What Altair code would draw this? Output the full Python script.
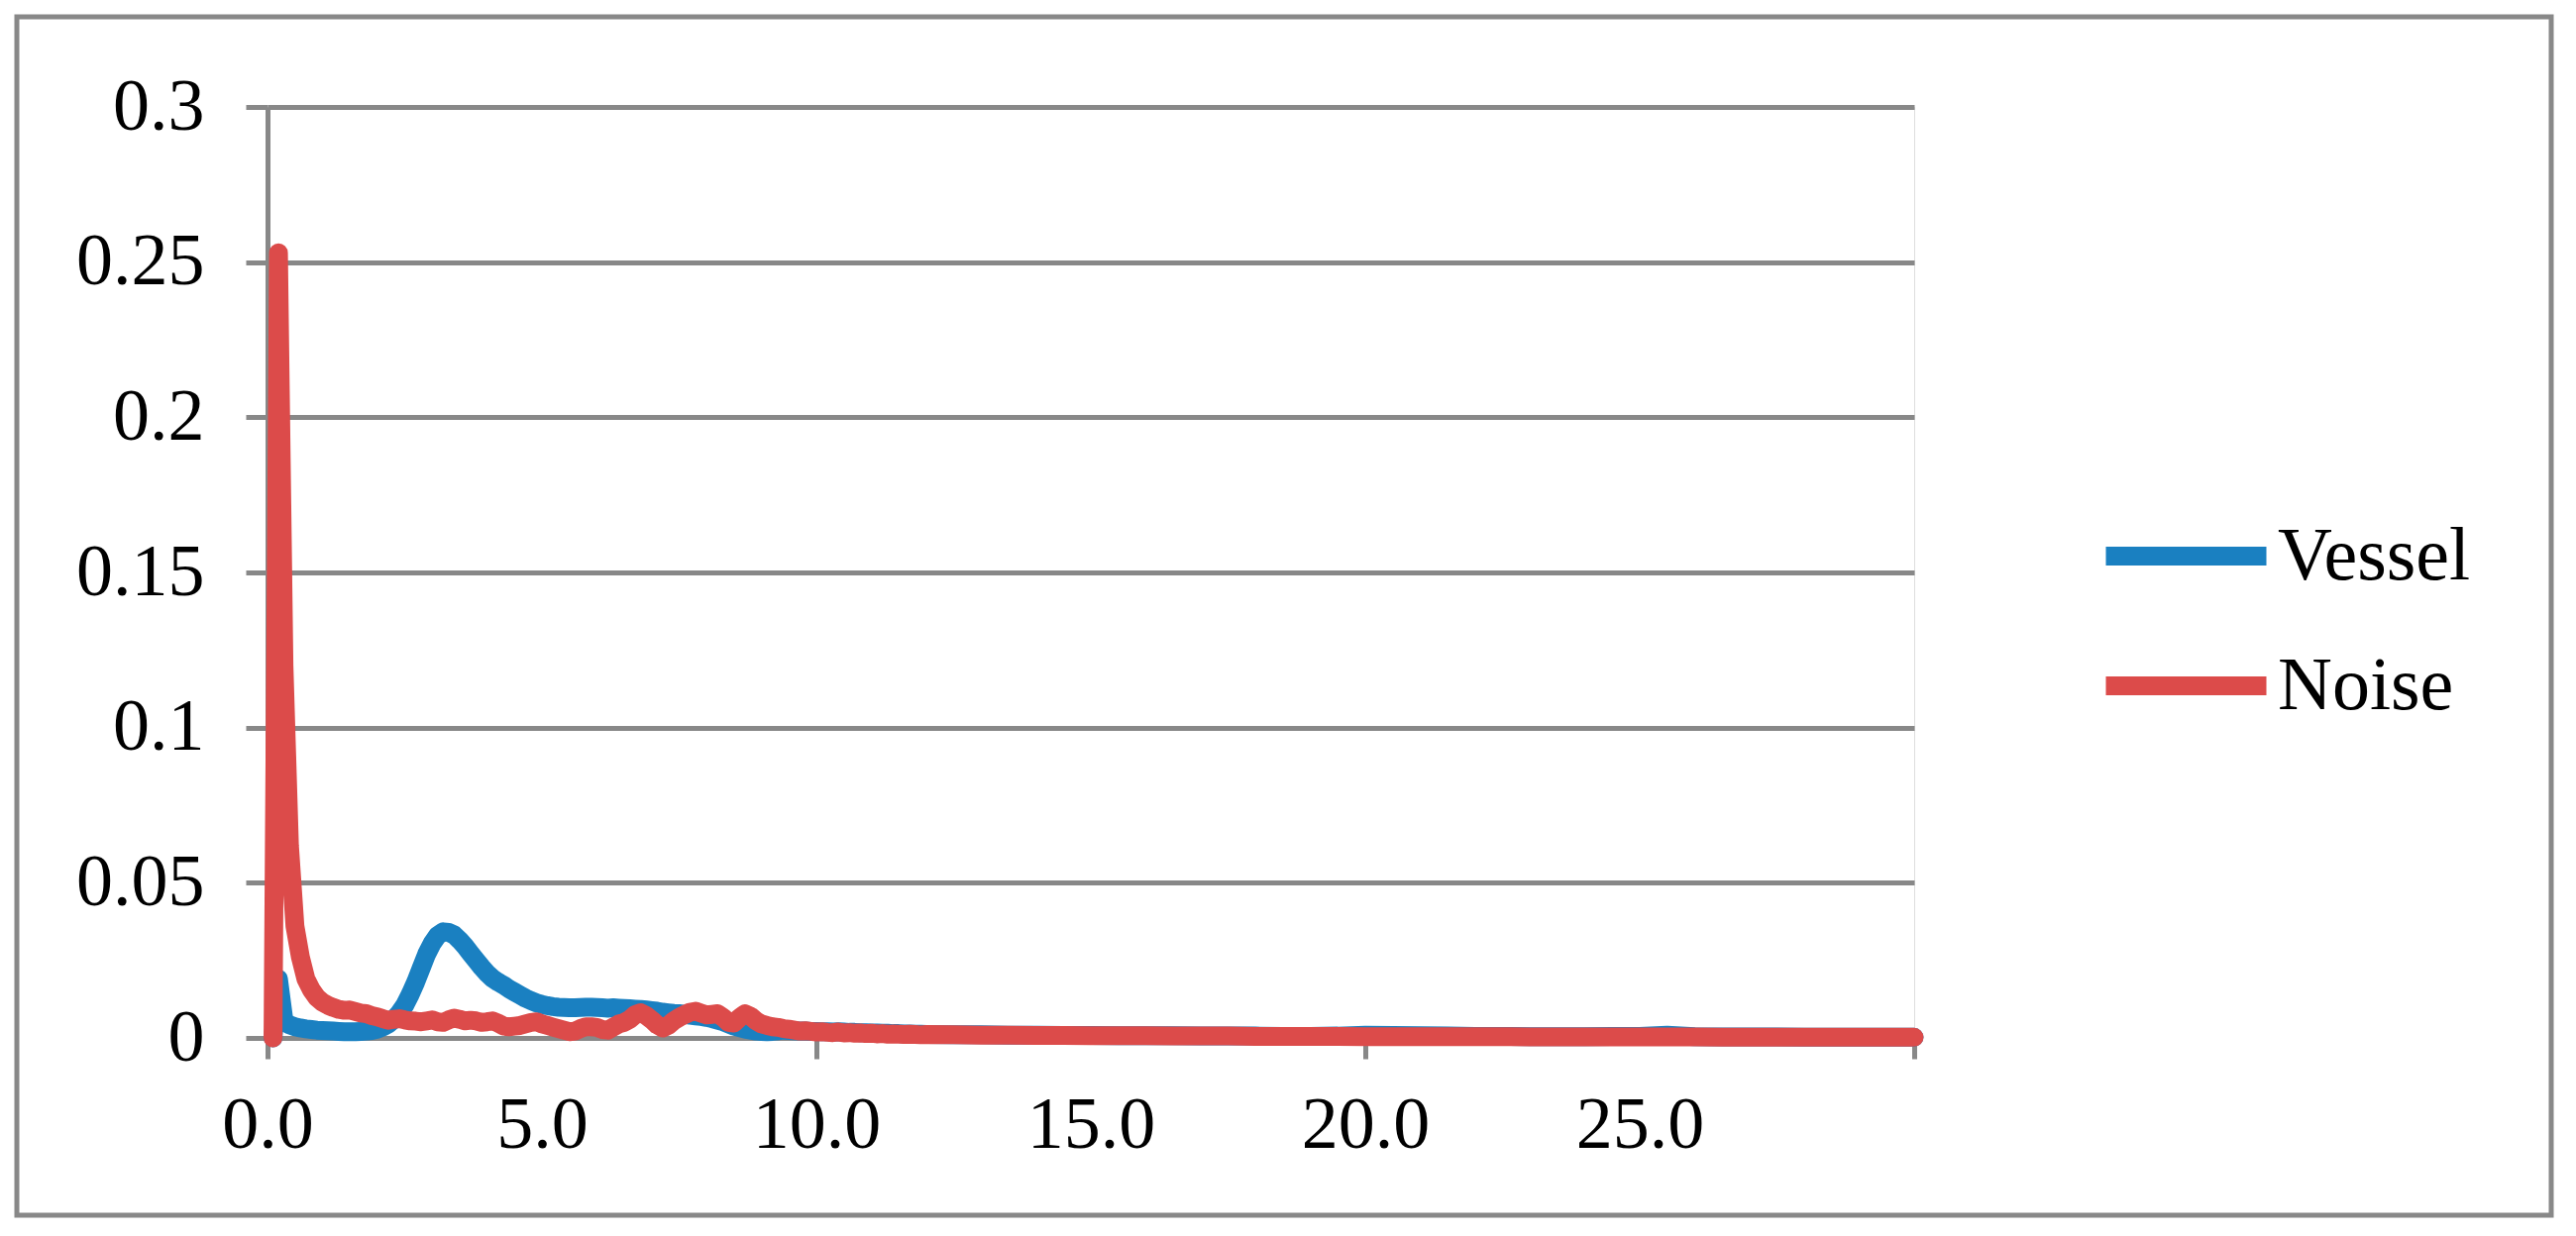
import altair as alt
import pandas as pd

# ---- data ----
# regular sampling grid 0.1 .. 12.0 (step 0.1), then 12.5 .. 30.0 (step 0.5)
x_fine = [round(0.1 * i, 1) for i in range(1, 121)]
x_tail = [round(12.0 + 0.5 * i, 1) for i in range(1, 37)]

vessel_fine = [
    0.0, 0.019, 0.0055, 0.0042, 0.0036, 0.0032, 0.0029, 0.0027, 0.0025, 0.0024,
    0.0023, 0.0022, 0.0021, 0.0020, 0.0020, 0.0020, 0.0021, 0.0022, 0.0024, 0.0028,
    0.0035, 0.0045, 0.0060, 0.0080, 0.0105, 0.0140, 0.0180, 0.0225, 0.0270, 0.0305,
    0.0330, 0.0342, 0.0340, 0.0332, 0.0315, 0.0295, 0.0272, 0.0250, 0.0228, 0.0208,
    0.0192, 0.0180, 0.0170, 0.0158, 0.0148, 0.0138, 0.0128, 0.0120, 0.0113, 0.0108,
    0.0104, 0.0101, 0.0099, 0.0098, 0.0097, 0.0097, 0.0098, 0.0099, 0.0099, 0.0098,
    0.0097, 0.0096, 0.0097, 0.0096, 0.0095, 0.0094, 0.0093, 0.0092, 0.0090, 0.0088,
    0.0086, 0.0083, 0.0081, 0.0079, 0.0078, 0.0076, 0.0073, 0.0071, 0.0069, 0.0066,
    0.0062, 0.0057, 0.0052, 0.0045, 0.0038, 0.0033, 0.0028, 0.0025, 0.0022, 0.0021,
    0.0020, 0.0021, 0.0023, 0.0025, 0.0024, 0.0023, 0.0022, 0.0022, 0.0021, 0.0021,
    0.0020, 0.0020, 0.0019, 0.0020, 0.0019, 0.0018, 0.0018, 0.0017, 0.0017, 0.0016,
    0.0016, 0.0015, 0.0015, 0.0014, 0.0014, 0.0013, 0.0013, 0.0012, 0.0012, 0.0011,
]
vessel_tail = [
    0.0010, 0.0010, 0.0009, 0.0009, 0.0008, 0.0008, 0.0007, 0.0007, 0.0007, 0.0006,
    0.0006, 0.0006, 0.0005, 0.0005, 0.0006, 0.0009, 0.0008, 0.0007, 0.0006, 0.0005,
    0.0005, 0.0004, 0.0004, 0.0004, 0.0005, 0.0005, 0.0009, 0.0004, 0.0003, 0.0003,
    0.0003, 0.0002, 0.0002, 0.0002, 0.0002, 0.0002,
]

noise_fine = [
    0.0, 0.253, 0.120, 0.062, 0.036, 0.026, 0.019, 0.0155, 0.013, 0.0115,
    0.0105, 0.0098, 0.0092, 0.0089, 0.0090, 0.0085, 0.0080, 0.0078, 0.0072, 0.0068,
    0.0062, 0.0057, 0.0060, 0.0062, 0.0058, 0.0055, 0.0054, 0.0052, 0.0055, 0.0058,
    0.0052, 0.0050, 0.0058, 0.0064, 0.0060, 0.0055, 0.0057, 0.0055, 0.0050, 0.0052,
    0.0055, 0.0048, 0.0038, 0.0036, 0.0038, 0.0040, 0.0045, 0.0050, 0.0052, 0.0045,
    0.0040, 0.0035, 0.0030, 0.0025, 0.0020, 0.0022, 0.0030, 0.0036, 0.0036, 0.0034,
    0.0027, 0.0025, 0.0035, 0.0045, 0.0050, 0.0060, 0.0075, 0.0081, 0.0072, 0.0058,
    0.0042, 0.0032, 0.0040, 0.0055, 0.0066, 0.0075, 0.0083, 0.0086, 0.0080, 0.0074,
    0.0076, 0.0078, 0.0066, 0.0050, 0.0048, 0.0065, 0.0078, 0.0070, 0.0055, 0.0045,
    0.0040, 0.0036, 0.0034, 0.0030, 0.0028, 0.0025, 0.0022, 0.0023, 0.0021, 0.0019,
    0.0020, 0.0018, 0.0017, 0.0019, 0.0016, 0.0017, 0.0015, 0.0016, 0.0014, 0.0015,
    0.0013, 0.0014, 0.0012, 0.0013, 0.0012, 0.0011, 0.0012, 0.0011, 0.0010, 0.0011,
]
noise_tail = [
    0.0010, 0.0009, 0.0009, 0.0008, 0.0008, 0.0007, 0.0007, 0.0007, 0.0006, 0.0006,
    0.0006, 0.0005, 0.0005, 0.0005, 0.0005, 0.0004, 0.0004, 0.0004, 0.0004, 0.0004,
    0.0004, 0.0003, 0.0003, 0.0003, 0.0003, 0.0003, 0.0003, 0.0003, 0.0002, 0.0002,
    0.0002, 0.0002, 0.0002, 0.0002, 0.0002, 0.0002,
]

series_names = ["Vessel", "Noise"]
series_colors = ["#1A80C1", "#DC4B4A"]
x_label_values = [0, 5, 10, 15, 20, 25, 30]
y_tick_values = [0, 0.05, 0.1, 0.15, 0.2, 0.25, 0.3]

xs = x_fine + x_tail
df = pd.concat([
    pd.DataFrame({"x": xs, "y": vessel_fine + vessel_tail, "series": "Vessel"}),
    pd.DataFrame({"x": xs, "y": noise_fine + noise_tail, "series": "Noise"}),
], ignore_index=True)

FONT = "Liberation Serif"
GRAY = "#888888"
LW = 19

color = alt.Color(
    "series:N",
    scale=alt.Scale(domain=series_names, range=series_colors),
    legend=alt.Legend(
        title=None,
        orient="none",
        legendX=1846,
        legendY=388,
        padding=0,
        symbolType="stroke",
        symbolSize=26244,
        symbolStrokeWidth=LW,
        clipHeight=131,
        rowPadding=0,
        labelOffset=2,
        labelFont=FONT,
        labelFontSize=76,
        labelColor="black",
        labelLimit=0,
    ),
)

x_enc = alt.X(
    "x:Q",
    scale=alt.Scale(domain=[0, 30], nice=False, zero=False),
    axis=alt.Axis(
        title=None,
        values=x_label_values,
        labelExpr="datum.value == 30 ? '' : format(datum.value, '.1f')",
        labelFont=FONT,
        labelFontSize=74,
        labelColor="black",
        labelPadding=31,
        labelFlush=False,
        labelOverlap=False,
        tickSize=21,
        tickWidth=5,
        tickColor=GRAY,
        tickOpacity={"condition": {"test": "datum.value % 10 === 0", "value": 1}, "value": 0},
        domainColor=GRAY,
        domainWidth=5,
        grid=False,
    ),
)
y_enc = alt.Y(
    "y:Q",
    scale=alt.Scale(domain=[0, 0.3], nice=False),
    axis=alt.Axis(
        title=None,
        values=y_tick_values,
        format=".2~f",
        labelFont=FONT,
        labelFontSize=74,
        labelColor="black",
        labelPadding=42,
        tickSize=22,
        tickWidth=5,
        tickColor=GRAY,
        domainColor=GRAY,
        domainWidth=5,
        grid=True,
        gridColor=GRAY,
        gridWidth=5,
    ),
)

base = alt.Chart(df).mark_line(
    strokeWidth=LW, strokeCap="round", strokeJoin="round"
).encode(x=x_enc, y=y_enc, color=color)

vessel = base.transform_filter(alt.datum.series == "Vessel")
noise = base.transform_filter(alt.datum.series == "Noise")

frame = alt.Chart(pd.DataFrame({"a": [0]})).mark_rect(
    fill=None, stroke=GRAY, strokeWidth=5
).encode(
    x=alt.value(-253), x2=alt.value(2305), y=alt.value(-91), y2=alt.value(1119)
)

chart = alt.layer(frame, vessel, noise).properties(
    width=1662,
    height=940,
    autosize="none",
    padding={"left": 262, "top": 100, "right": 660, "bottom": 192},
).configure_view(stroke=None).configure(background="white")

chart.save("out.html", embed_options={"renderer": "svg", "actions": False})
